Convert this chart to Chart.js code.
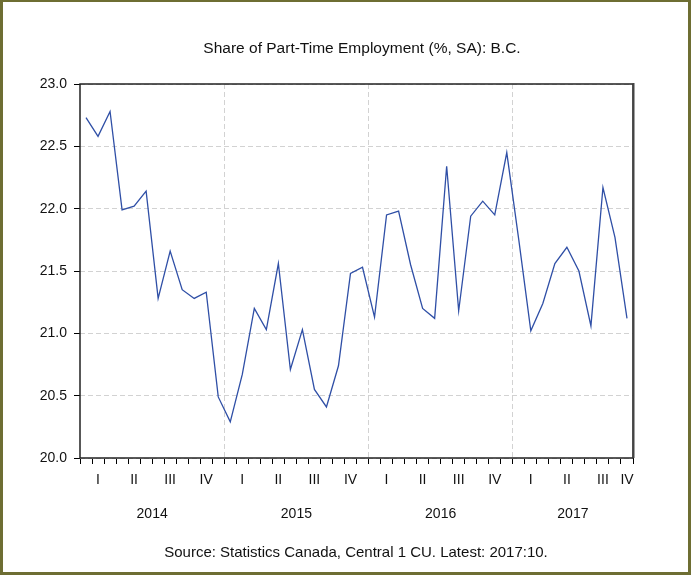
<!DOCTYPE html>
<html>
<head>
<meta charset="utf-8">
<script src="https://cdn.jsdelivr.net/npm/chart.js@4"></script>
<style>
  html, body { margin: 0; padding: 0; background: #fff; }
  canvas { display: block; }
</style>
</head>
<body>
<canvas id="ptChart" width="691" height="579"></canvas>
<script>
(function () {
  // Monthly, Jan 2014 .. Oct 2017
  const years = ['2014', '2015', '2016', '2017'];
  const quarterNames = ['I', 'II', 'III', 'IV'];
  const yTicks = [20.0, 20.5, 21.0, 21.5, 22.0, 22.5, 23.0];
  const shareValues = [
    22.73, 22.58, 22.78, 21.99, 22.02, 22.14, 21.28, 21.66, 21.35, 21.28, 21.33, 20.49,
    20.29, 20.67, 21.20, 21.03, 21.56, 20.71, 21.03, 20.55, 20.41, 20.74, 21.48, 21.53,
    21.13, 21.95, 21.98, 21.55, 21.20, 21.12, 22.34, 21.18, 21.94, 22.06, 21.95, 22.45,
    21.75, 21.02, 21.24, 21.56, 21.69, 21.50, 21.06, 22.17, 21.77, 21.12
  ];
  const titleText = 'Share of Part-Time Employment (%, SA): B.C.';
  const sourceText = 'Source: Statistics Canada, Central 1 CU. Latest: 2017:10.';

  const nMonths = shareValues.length;
  const fontFamily = "'Liberation Sans', Arial, sans-serif";

  // label positions: centre of the visible part of each quarter / year
  const quarterPos = [];
  for (let s = 0; s < nMonths; s += 3) quarterPos.push((s + Math.min(s + 3, nMonths)) / 2);
  const yearPos = years.map((_, i) => (i * 12 + Math.min(i * 12 + 12, nMonths)) / 2);

  const points = shareValues.map((v, i) => ({ x: i + 0.5, y: v }));

  const framePlugin = {
    id: 'frame',
    beforeDraw(chart) {
      const ctx = chart.ctx;
      ctx.save();
      ctx.fillStyle = '#fff';
      ctx.fillRect(0, 0, chart.width, chart.height);
      ctx.fillStyle = '#6e6e33';
      ctx.fillRect(0, 0, chart.width, 2);
      ctx.fillRect(0, 0, 3, 575);
      ctx.fillRect(chart.width - 3, 0, 3, 575);
      ctx.fillRect(0, 572, chart.width, 3);
      ctx.restore();
    },
    afterDraw(chart) {
      const ctx = chart.ctx;
      const a = chart.chartArea;
      ctx.save();
      ctx.strokeStyle = '#222';
      ctx.lineWidth = 1.5;
      ctx.strokeRect(a.left, a.top, a.right - a.left, a.bottom - a.top);
      ctx.strokeStyle = '#444';
      ctx.lineWidth = 2;
      ctx.beginPath();
      ctx.moveTo(a.right + 0.5, a.top - 1);
      ctx.lineTo(a.right + 0.5, a.bottom);
      ctx.stroke();

      ctx.fillStyle = '#111';
      ctx.textAlign = 'center';
      ctx.textBaseline = 'alphabetic';
      ctx.font = '15.5px ' + fontFamily;
      ctx.fillText(titleText, 362, 53);
      ctx.font = '15px ' + fontFamily;
      ctx.fillText(sourceText, 356, 557);
      ctx.restore();
    }
  };

  const tickFont = { family: fontFamily, size: 14 };

  new Chart(document.getElementById('ptChart'), {
    type: 'line',
    data: {
      datasets: [{
        label: 'Share of Part-Time Employment',
        data: points,
        borderColor: '#2f4fa6',
        borderWidth: 1.3,
        pointRadius: 0,
        tension: 0,
        fill: false
      }]
    },
    options: {
      responsive: false,
      animation: false,
      events: [],
      layout: { autoPadding: false, padding: { top: 84, left: 0, right: 58, bottom: 49 } },
      plugins: {
        legend: { display: false },
        title: { display: false },
        tooltip: { enabled: false }
      },
      scales: {
        x: {
          type: 'linear',
          position: 'bottom',
          weight: 0,
          min: 0,
          max: nMonths,
          afterBuildTicks: (s) => { s.ticks = Array.from({ length: nMonths + 1 }, (_, i) => ({ value: i })); },
          afterFit: (s) => { s.height = 8; },
          ticks: { display: false },
          grid: {
            drawTicks: true,
            tickLength: 6,
            tickColor: '#000',
            color: (c) => (c.tick && c.tick.value % 12 === 0 && c.tick.value > 0 && c.tick.value < nMonths) ? '#d2d2d2' : 'transparent'
          },
          border: { display: false, dash: [5, 3] }
        },
        xq: {
          type: 'linear',
          position: 'bottom',
          weight: 1,
          min: 0,
          max: nMonths,
          afterBuildTicks: (s) => { s.ticks = quarterPos.map((p) => ({ value: p })); },
          afterFit: (s) => { s.height = 28; },
          ticks: {
            autoSkip: false,
            maxRotation: 0,
            padding: 6,
            color: '#111',
            font: tickFont,
            callback: (v, i) => quarterNames[i % 4]
          },
          grid: { display: false, drawTicks: false },
          border: { display: false }
        },
        xy: {
          type: 'linear',
          position: 'bottom',
          weight: 2,
          min: 0,
          max: nMonths,
          afterBuildTicks: (s) => { s.ticks = yearPos.map((p) => ({ value: p })); },
          afterFit: (s) => { s.height = 36; },
          ticks: {
            autoSkip: false,
            maxRotation: 0,
            padding: 12,
            color: '#111',
            font: tickFont,
            callback: (v, i) => years[i]
          },
          grid: { display: false, drawTicks: false },
          border: { display: false }
        },
        y: {
          type: 'linear',
          min: 20,
          max: 23,
          afterBuildTicks: (s) => { s.ticks = yTicks.map((v) => ({ value: v })); },
          afterFit: (s) => { s.width = 80; },
          ticks: {
            padding: 7,
            color: '#111',
            font: tickFont,
            callback: (v) => Number(v).toFixed(1)
          },
          grid: {
            color: '#d2d2d2',
            tickColor: '#000',
            tickLength: 6
          },
          border: { display: false, dash: [5, 3] }
        }
      }
    },
    plugins: [framePlugin]
  });
})();
</script>
</body>
</html>
